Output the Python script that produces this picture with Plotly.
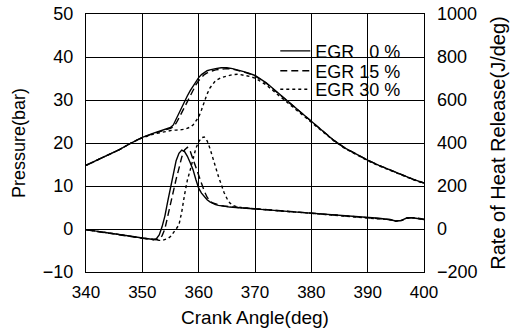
import plotly.graph_objects as go

# ---------------- data ----------------
crank_p = [340, 342, 344, 346, 348, 350, 352, 353, 354, 355,
           355.5, 356, 356.5, 357, 357.5, 358, 358.5, 359, 359.5, 360,
           360.5, 361, 361.5, 362, 362.5, 363,
           364, 365, 366, 367, 368, 369, 370,
           372, 374, 376, 378, 380, 382, 384, 386, 388, 390, 392, 394, 396, 398, 400]

pres_egr0 = [14.8, 16.0, 17.2, 18.5, 20.0, 21.3, 22.3, 22.7, 23.1, 23.6,
             24.2, 25.6, 27.0, 28.4, 29.7, 31.0, 32.2, 33.3, 34.3, 35.2,
             35.9, 36.4, 36.8, 37.0, 37.2, 37.3,
             37.5, 37.5, 37.3, 37.0, 36.6, 36.2, 35.7,
             34.0, 31.8, 29.6, 27.3, 25.0, 22.8, 20.6, 18.8, 17.3, 16.0, 14.8, 13.7, 12.6, 11.6, 10.7]

pres_egr15 = [14.8, 16.0, 17.2, 18.5, 20.0, 21.3, 22.2, 22.6, 23.0, 23.4,
              23.8, 24.6, 25.8, 27.1, 28.5, 29.9, 31.2, 32.4, 33.5, 34.5,
              35.3, 35.9, 36.3, 36.6, 36.8, 37.0,
              37.2, 37.3, 37.2, 36.9, 36.5, 36.1, 35.6,
              33.9, 31.7, 29.5, 27.2, 24.9, 22.7, 20.6, 18.8, 17.3, 16.0, 14.8, 13.7, 12.6, 11.6, 10.7]

pres_egr30 = [14.8, 16.0, 17.2, 18.5, 20.0, 21.2, 22.1, 22.4, 22.7, 22.9,
              23.0, 23.0, 23.0, 23.1, 23.2, 23.4, 23.7, 24.2, 25.0, 26.0,
              27.7, 29.6, 31.4, 32.8, 33.8, 34.5,
              35.2, 35.6, 35.9, 36.0, 35.8, 35.5, 35.1,
              33.5, 31.3, 29.1, 26.9, 24.7, 22.6, 20.5, 18.7, 17.2, 15.9, 14.7, 13.6, 12.5, 11.5, 10.6]

crank_h = [340, 342, 344, 346, 348, 350, 351, 352,
           352.5, 353, 353.5, 354, 354.5, 355, 355.5, 356, 356.5, 357,
           357.5, 358, 358.5, 359, 359.5, 360, 360.5, 361, 361.5, 362,
           362.5, 363, 363.5, 364, 364.5, 365, 365.5, 366,
           367, 368,
           370, 372, 374, 376, 378, 380, 382, 384, 386, 388, 390, 392, 394,
           395, 396, 397, 398, 399, 400]

hrr_egr0 = [-3, -10, -18, -26, -34, -42, -46, -49,
            -45, -28, 10, 60, 127, 188, 255, 318, 352, 367,
            360, 338, 308, 276, 230, 190, 167, 150, 136, 126,
            119, 113, 110, 107, 105, 104, 102, 101,
            99, 98,
            94, 90, 87, 83, 78, 73, 70, 66, 63, 59, 55, 50, 43,
            37, 40, 52, 52, 49, 44]

hrr_egr15 = [-4, -11, -19, -27, -35, -43, -47, -50,
             -50, -46, -32, 0, 60, 118, 178, 232, 282, 335,
             368, 380, 362, 325, 285, 244, 206, 176, 148, 130,
             121, 116, 112, 109, 107, 105, 103, 102,
             100, 98,
             95, 91, 86, 82, 78, 74, 70, 66, 62, 59, 55, 50, 44,
             38, 39, 50, 53, 50, 45]

hrr_egr30 = [-3, -10, -18, -26, -35, -43, -47, -50,
             -52, -53, -53, -50, -45, -35, -20, 0, 19, 80,
             160, 228, 275, 325, 375, 405, 425, 428, 410, 375,
             330, 288, 245, 208, 170, 143, 122, 110,
             102, 98,
             94, 90, 86, 82, 77, 73, 70, 66, 62, 58, 54, 49, 43,
             36, 40, 51, 52, 48, 43]

labels = ["EGR \u20070 %", "EGR 15 %", "EGR 30 %"]
dashes = ["solid", "7px,4px", "3px,3px"]

FONT = "Liberation Sans, Arial, Helvetica, sans-serif"

fig = go.Figure()
pres = [pres_egr0, pres_egr15, pres_egr30]
hrr = [hrr_egr0, hrr_egr15, hrr_egr30]
legends = ["legend", "legend2", "legend3"]
for i in range(3):
    fig.add_trace(go.Scatter(x=crank_p, y=pres[i], mode="lines", name=labels[i],
                             line=dict(color="black", width=1.4, dash=dashes[i]),
                             legend=legends[i], showlegend=True))
for i in range(3):
    fig.add_trace(go.Scatter(x=crank_h, y=hrr[i], mode="lines", name=labels[i],
                             line=dict(color="black", width=1.4, dash=dashes[i]),
                             yaxis="y2", showlegend=False))

axis_common = dict(showgrid=True, gridcolor="black", gridwidth=1,
                   showline=True, linecolor="black", linewidth=1.2,
                   ticks="", zeroline=False, automargin=False)

leg_common = dict(bgcolor="rgba(0,0,0,0)", borderwidth=0, xanchor="left", yanchor="middle",
                  font=dict(family=FONT, size=18, color="black"))

fig.update_layout(
    width=518, height=335,
    margin=dict(l=86, r=94, t=14, b=63, autoexpand=False),
    paper_bgcolor="white", plot_bgcolor="white",
    font=dict(family=FONT, color="black"),
    xaxis=dict(range=[340, 400], dtick=10, mirror=True,
               tickfont=dict(size=17), ticklabelstandoff=4,
               title=dict(text="Crank Angle(deg)", font=dict(size=19), standoff=10),
               **axis_common),
    yaxis=dict(range=[-10, 50], dtick=10, mirror=True,
               tickfont=dict(size=18), ticklabelstandoff=8,
               title=dict(text="Pressure(bar)", font=dict(size=18), standoff=12),
               **axis_common),
    yaxis2=dict(range=[-200, 1000], dtick=200, overlaying="y", side="right",
                showgrid=False, showline=False, ticks="", zeroline=False, automargin=False,
                tickfont=dict(size=18), ticklabelstandoff=12,
                title=dict(text="Rate of Heat Release(J/deg)", font=dict(size=20), standoff=14)),
    legend=dict(x=0.56, y=0.856, **leg_common),
    legend2=dict(x=0.56, y=0.779, **leg_common),
    legend3=dict(x=0.56, y=0.707, **leg_common),
)

fig.write_html("out.html")
